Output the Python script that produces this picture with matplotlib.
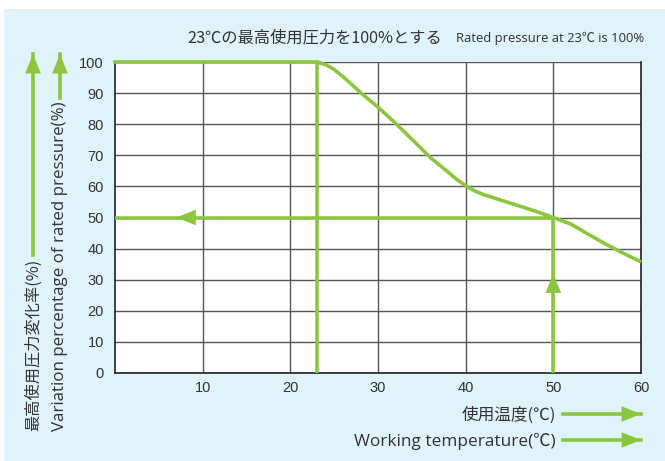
import matplotlib.pyplot as plt
from matplotlib.patches import Rectangle, FancyArrowPatch

# values
temps = [23, 24, 25, 26, 27, 28, 30, 32, 34, 36, 38, 39, 40, 41, 42, 44, 46, 48,
         50, 52, 54, 56, 58, 60]
pressure = [100, 99.2, 97.6, 95.3, 92.8, 90.2, 85.5, 80.3, 74.8, 69.2, 64.6, 62.2,
            60.2, 58.6, 57.4, 55.6, 53.8, 52.0, 50.0, 47.9, 44.6, 41.4, 38.5, 35.7]
x_ticks = [10, 20, 30, 40, 50, 60]
y_ticks = [0, 10, 20, 30, 40, 50, 60, 70, 80, 90, 100]
ref_temp = 23
ref_temp2 = 50
half_rate = 50

GREEN = '#8cc63f'
BLUE = '#e0f2fa'
GRID = '#555555'
JP = ['Noto Sans CJK JP', 'DejaVu Sans']
EN = ['Open Sans', 'Noto Sans CJK JP', 'DejaVu Sans']


def main():
    fig = plt.figure(figsize=(6.65, 4.61), dpi=100)
    W, H = 665, 461
    fig.patches.append(Rectangle((4 / W, 0), 1, 1 - 9 / H, transform=fig.transFigure,
                                 facecolor=BLUE, edgecolor='none', zorder=-5))

    ax = fig.add_axes([115 / W, 1 - 373 / H, (641 - 115) / W, (373 - 62) / H])
    ax.set_facecolor('white')
    ax.set_xlim(0, 60)
    ax.set_ylim(0, 100)
    ax.set_xticks(x_ticks)
    ax.set_yticks(y_ticks)
    ax.tick_params(length=0, labelsize=10.5, colors='#333333')
    ax.tick_params(axis='x', pad=6)
    ax.tick_params(axis='y', pad=8)
    for lab in ax.get_xticklabels() + ax.get_yticklabels():
        lab.set_family('Liberation Sans')
    ax.grid(True, color=GRID, lw=1.0)
    ax.spines['top'].set_visible(False)
    for s in ['left', 'right', 'bottom']:
        ax.spines[s].set_color('#222222')
        ax.spines[s].set_linewidth(1.2)

    lw = 2.6
    ax.plot([0, ref_temp], [100, 100], color=GREEN, lw=lw, clip_on=False, zorder=5)
    ax.plot(temps, pressure, color=GREEN, lw=lw, clip_on=False, zorder=5, solid_capstyle='butt')
    ax.plot([ref_temp, ref_temp], [0, 100], color=GREEN, lw=lw, zorder=5)
    ax.plot([0, ref_temp2], [half_rate, half_rate], color=GREEN, lw=lw, zorder=5)
    ax.plot([ref_temp2, ref_temp2], [0, half_rate], color=GREEN, lw=lw, zorder=5)

    head = dict(arrowstyle='-|>,head_length=1.0,head_width=0.4', color=GREEN, lw=0,
                mutation_scale=14, shrinkA=0, shrinkB=0)
    ax.annotate('', xy=(7.0, half_rate), xytext=(9.5, half_rate), arrowprops=head, zorder=6)
    ax.annotate('', xy=(ref_temp2, 32), xytext=(ref_temp2, 24), arrowprops=head, zorder=6)

    # arrows outside the plot, in figure pixels (from the top)
    def fig_arrow(x0, y0, x1, y1):
        fig.add_artist(plt.Line2D([x0 / W, x1 / W], [1 - y0 / H, 1 - y1 / H],
                                  color=GREEN, lw=lw, transform=fig.transFigure))
        fig.add_artist(FancyArrowPatch(
            (x0 + (x1 - x0) * 0.8, H - (y0 + (y1 - y0) * 0.8)), (x1, H - y1),
            transform=None, **head))

    fig_arrow(33, 255, 33, 54)
    fig_arrow(60, 98, 60, 54)
    fig_arrow(563, 414, 641, 414)
    fig_arrow(563, 440, 641, 440)

    fig.text(33 / W, 1 - 431 / H, '最高使用圧力変化率(%)', rotation=90, ha='center', va='bottom',
             fontsize=11.7, family=JP, color='#333333')
    fig.text(60 / W, 1 - 431 / H, 'Variation percentage of rated pressure(%)', rotation=90,
             ha='center', va='bottom', fontsize=12.2, family=EN, color='#333333')
    fig.text(556 / W, 1 - 415 / H, '使用温度(℃)', ha='right', va='center',
             fontsize=12, family=JP, color='#333333')
    fig.text(556 / W, 1 - 441 / H, 'Working temperature(℃)', ha='right', va='center',
             fontsize=12.4, family=EN, color='#333333')
    fig.text(187 / W, 1 - 38 / H, '23℃の最高使用圧力を100%とする', ha='left', va='center',
             fontsize=11.7, family=JP, color='#333333')
    fig.text(456 / W, 1 - 38 / H, 'Rated pressure at 23℃ is 100%', ha='left', va='center',
             fontsize=9.4, family=EN, color='#333333')

    fig.savefig('out.png', dpi=100)


if __name__ == '__main__':
    main()
